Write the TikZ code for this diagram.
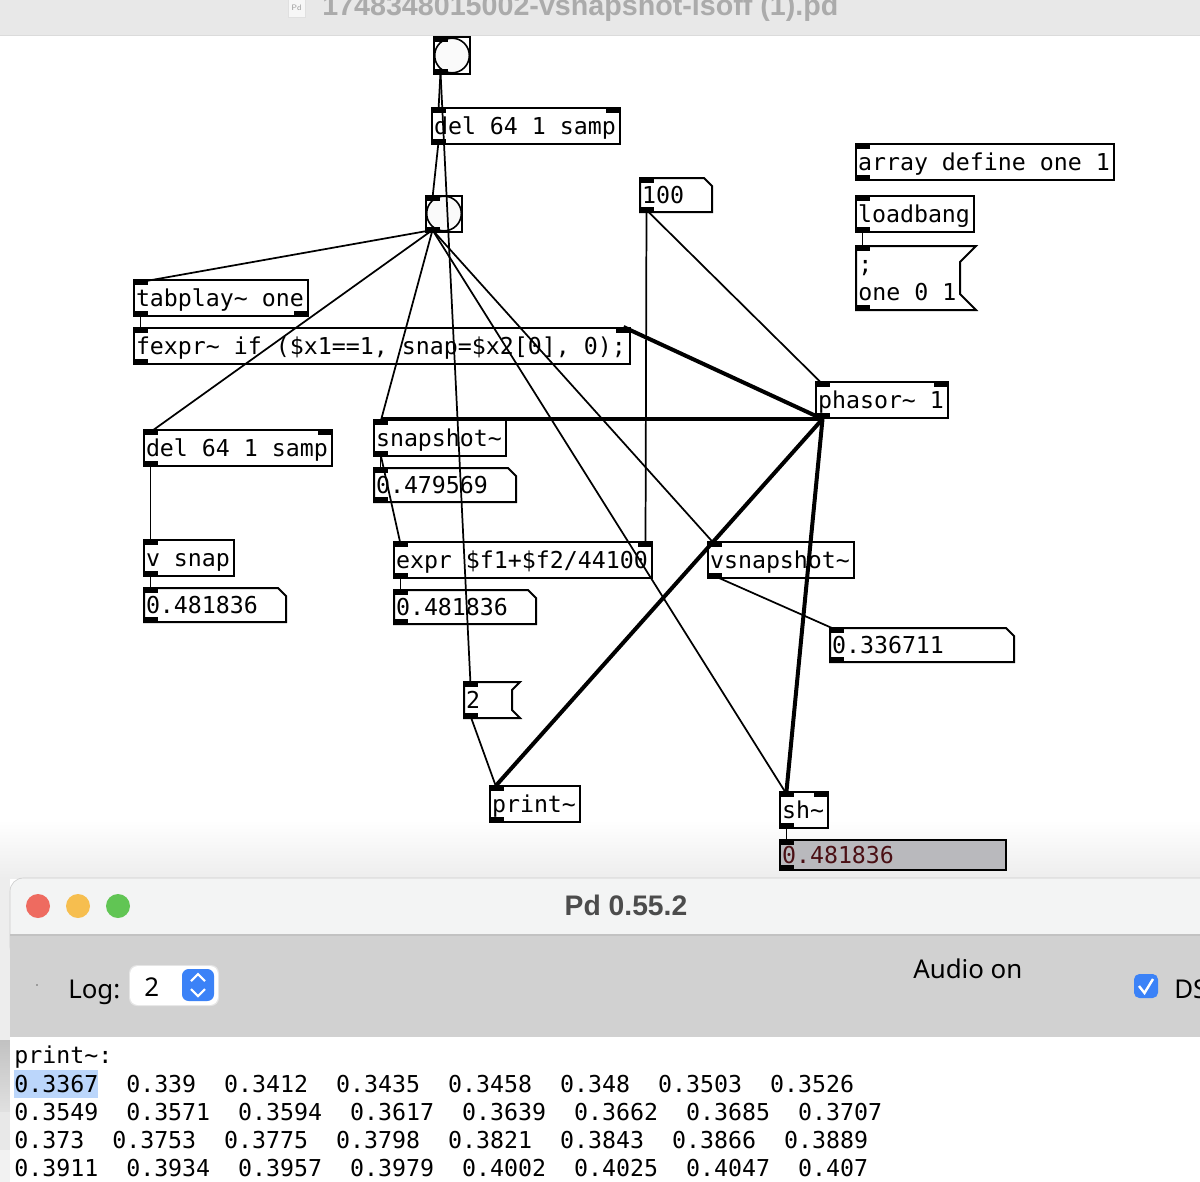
\documentclass[tikz,border=0pt]{standalone}
\usepackage{fontspec}
\newfontfamily\pdfont{DejaVu Sans Mono}
\newfontfamily\uifont{Noto Sans}
\newfontfamily\titlefont{Liberation Sans}
\definecolor{barbg}{HTML}{E8E8E8}
\definecolor{titlebg}{HTML}{F3F4F4}
\definecolor{toolbg}{HTML}{D1D1D1}
\definecolor{macblue}{HTML}{3B82F7}
\definecolor{selblue}{HTML}{BBD6FB}
\definecolor{numgray}{HTML}{B9B9BD}
\definecolor{numred}{HTML}{4A0F14}
\definecolor{lampred}{HTML}{EE6B60}
\definecolor{lampyellow}{HTML}{F6BE4F}
\definecolor{lampgreen}{HTML}{61C554}
\newcommand{\tl}{\char"7E }
\newcommand{\pdports}[1]{
 \node[port,anchor=north west] (#1-in) at ([shift={(-.75pt,.75pt)}]#1.north west) {};
 \node[port,anchor=south west] (#1-out) at ([shift={(-.75pt,-.75pt)}]#1.south west) {};
}
\newcommand{\pdbox}[7][]{
 \node[pdbox,minimum width={(#5-#3-2)*.75pt},minimum height={(#6-#4-2)*.75pt},text width={(#5-#3-6)*.75pt},#1] (#2) at ({(#3+#5)/2},{(#4+#6)/2}) {\spaceskip=0pt\xspaceskip=0pt\mbox{#7}};
 \pdports{#2}
}
\newcommand{\pdnum}[6]{
 \pdbox[draw=none]{#1}{#2}{#3}{#4}{#5}{#6}
 \draw[boxline] (#1.north west) -- ([xshift=-6pt]#1.north east) -- ([yshift=-6pt]#1.north east) -- (#1.south east) -- (#1.south west) -- cycle;
}
\newcommand{\pdmsg}[7]{
 \pdbox[draw=none]{#1}{#2}{#3}{#4}{#5}{#7}
 \draw[boxline] (#1.north west) -- (#1.north east) -- ([shift={(-#6,-#6)}]#1.north east) -- ([shift={(-#6,#6)}]#1.south east) -- (#1.south east) -- (#1.south west) -- cycle;
}
\newcommand{\pdright}[1]{
 \node[port,anchor=north east] (#1-in2) at ([shift={(.75pt,.75pt)}]#1.north east) {};
}
\begin{document}
\begin{tikzpicture}[x=.75pt,y=-.75pt,
 pdbox/.style ={draw=black,line width=1.5pt,inner xsep=1.5pt,inner ysep=0pt,outer sep=0pt,align=left,font=\pdfont\fontsize{17.44}{21}\selectfont,text height=15pt,text depth=3pt},
 boxline/.style ={draw=black,line width=1.5pt,line join=miter},
 port/.style ={fill=black,inner sep=0pt,outer sep=0pt,minimum width=11.25pt,minimum height=4.5pt},
 bangdot/.style ={circle,draw=black,fill=white!98!black,line width=1.2pt,inner sep=0pt,minimum size=26pt},
 cable/.style ={-,draw=black,line width=1.3pt},
 sigcable/.style ={-,draw=black,line width=3pt},
 logtext/.style ={anchor=base west,inner sep=0pt,font=\pdfont\fontsize{17.44}{21}\selectfont},
 uitext/.style ={anchor=base west,inner sep=0pt,font=\uifont\fontsize{19.4}{23}\selectfont}
 ]
\useasboundingbox (0,0) rectangle (1200,1182);
%draw title bar of the patch
\fill[barbg] (0,0) rectangle (1200,35);
\fill[black!14] (0,35) rectangle (1200,36);
\draw[black!12,fill=black!3,line width=.5pt] (288,-3) rectangle (305,17);
\node[inner sep=0pt,text=black!40,font=\fontsize{6}{6}\selectfont\sffamily] (docicon) at (296.5,8) {Pd};
\node[anchor=base west,inner sep=0pt,text=black!33,font=\titlefont\bfseries\fontsize{21.5}{24}\selectfont] (patchtitle) at (322,15) {1748348015002-vsnapshot-isoff (1).pd};
%draw soft shadow over the patch
\shade[top color=white,bottom color=black!7] (0,820) rectangle (1200,878);
\fill[black!7] (0,878) rectangle (10,1040);
\shade[top color=black!24,bottom color=black!12] (0,1040) rectangle (10,1112);
\fill[black!9] (0,1112) rectangle (10,1150);
\fill[black!5] (0,1150) rectangle (10,1182);
%draw bangs
\node[bangdot] (dot1) at (452,55.5) {};
\node[bangdot] (dot2) at (444,213.5) {};
\pdbox{bang1}{433}{36}{471}{75}{}
\pdbox{bang2}{425}{195}{463}{233}{}
%draw objects
\pdbox{del1}{431}{107}{621}{145}{del 64 1 samp}
\pdright{del1}
\pdbox{array}{855}{143}{1115}{181}{array define one 1}
\pdbox{load}{855}{195}{975}{233}{loadbang}
\pdbox{tabplay}{133}{279}{309}{317}{tabplay\tl\ one}
\node[port,anchor=south east] (tabplay-out2) at ([shift={(.75pt,-.75pt)}]tabplay.south east) {};
\pdbox{fexpr}{133}{327}{631}{365}{fexpr\tl\ if (\$x1==1, snap=\$x2[0], 0);}
\pdright{fexpr}
\pdbox{phasor}{815}{381}{949}{419}{phasor\tl\ 1}
\pdright{phasor}
\pdbox{del2}{143}{429}{333}{467}{del 64 1 samp}
\pdright{del2}
\pdbox{snapshot}{373}{419}{507}{457}{snapshot\tl}
\pdbox{vsnap}{143}{539}{235}{577}{v snap}
\pdbox{expr}{393}{541}{653}{579}{expr \$f1+\$f2/44100}
\pdright{expr}
\pdbox{vsnapshot}{707}{541}{855}{579}{vsnapshot\tl}
\pdbox{print}{489}{785}{581}{823}{print\tl}
\pdbox{sh}{779}{791}{829}{829}{sh\tl}
\pdright{sh}
%draw number boxes
\pdnum{num100}{639}{177}{713}{213}{100}
\pdnum{numsnap}{373}{467}{517}{503}{0.479569}
\pdnum{numv}{143}{587}{287}{623}{0.481836}
\pdnum{numexpr}{393}{589}{537}{625}{0.481836}
\pdnum{numvsnap}{829}{627}{1015}{663}{0.336711}
\pdbox[fill=numgray,text=numred]{numsh}{779}{839}{1007}{871}{0.481836}
%draw message boxes
\pdmsg{msgone}{855}{245}{977}{311}{12pt}{}
\node[logtext] (msgsemi) at (858,272) {;};
\node[logtext] (msgtext) at (858,300) {one 0 1};
\pdmsg{msgtwo}{463}{681}{521}{719}{6pt}{2}
%draw control cables
\draw[cable] (bang1-out.center) -- (del1-in.center);
\draw[cable] (bang1-out.center) -- (msgtwo-in.center);
\draw[cable] (del1-out.center) -- (bang2-in.center);
\draw[cable] (bang2-out.center) -- (tabplay-in.center);
\draw[cable] (bang2-out.center) -- (del2-in.center);
\draw[cable] (bang2-out.center) -- (snapshot-in.center);
\draw[cable] (bang2-out.center) -- (vsnapshot-in.center);
\draw[cable] (bang2-out.center) -- (sh-in.center);
\draw[cable] (tabplay-out.center) -- (fexpr-in.center);
\draw[cable] (del2-out.center) -- (vsnap-in.center);
\draw[cable] (vsnap-out.center) -- (numv-in.center);
\draw[cable] (snapshot-out.center) -- (numsnap-in.center);
\draw[cable] (snapshot-out.center) -- (expr-in.center);
\draw[cable] (expr-out.center) -- (numexpr-in.center);
\draw[cable] (num100-out.center) -- (expr-in2.center);
\draw[cable] (num100-out.center) -- (phasor-in.center);
\draw[cable] (load-out.center) -- (msgone-in.center);
\draw[cable] (vsnapshot-out.center) -- (numvsnap-in.center);
\draw[cable] (msgtwo-out.center) -- (print-in.center);
\draw[cable] (sh-out.center) -- (numsh-in.center);
%draw signal cables
\draw[sigcable] (phasor-out.south) -- (fexpr-in2.north);
\draw[sigcable] (phasor-out.south) -- (snapshot-in.north);
\draw[sigcable] (phasor-out.south) -- (print-in.north);
\draw[sigcable] (phasor-out.south) -- (sh-in.north);
%draw Pd window
\filldraw[fill=titlebg,draw=black!20,line width=.5pt,rounded corners=10pt] (10,960) -- (10,878) -- (1230,878) -- (1230,960) -- cycle;
\fill[toolbg] (10,935) rectangle (1200,1037);
\fill[black!24] (10,934) rectangle (1200,935.5);
\fill[white] (10,1037) rectangle (1200,1182);
\fill[lampred] (38,906) circle (9pt);
\fill[lampyellow] (78,906) circle (9pt);
\fill[lampgreen] (118,906) circle (9pt);
\node[inner sep=0pt,text=black!70,font=\titlefont\bfseries\fontsize{21.2}{24}\selectfont] (pdtitle) at (626,905) {Pd 0.55.2};
%draw toolbar
\fill[black!60] (37,985) circle (.6pt);
\node[uitext] (loglabel) at (68,998) {Log:};
\fill[black!10,rounded corners=6pt] (129,965) rectangle (219,1006);
\fill[white,rounded corners=6pt] (130,966) rectangle (218,1005);
\node[uitext] (loglevel) at (144,996) {2};
\fill[macblue,rounded corners=5pt] (182,969) rectangle (214,1001);
\draw[white,line width=1.6pt] (191,981) -- (198,974) -- (205,981);
\draw[white,line width=1.6pt] (191,989) -- (198,996) -- (205,989);
\node[uitext] (audioon) at (913,978) {Audio on};
\fill[macblue,rounded corners=4pt] (1134,974) rectangle (1158,998);
\draw[white,line width=1.8pt] (1139,986) -- (1144.5,993) -- (1153,979);
\node[uitext] (dspcheck) at (1174,998) {DS};
%draw log lines
\fill[selblue] (14,1070) rectangle (98,1098);
\node[logtext] (log0) at (14,1063) {print\tl:};
\node[logtext] (log1) at (14,1092) {0.3367~~0.339~~0.3412~~0.3435~~0.3458~~0.348~~0.3503~~0.3526};
\node[logtext] (log2) at (14,1120) {0.3549~~0.3571~~0.3594~~0.3617~~0.3639~~0.3662~~0.3685~~0.3707};
\node[logtext] (log3) at (14,1148) {0.373~~0.3753~~0.3775~~0.3798~~0.3821~~0.3843~~0.3866~~0.3889};
\node[logtext] (log4) at (14,1176) {0.3911~~0.3934~~0.3957~~0.3979~~0.4002~~0.4025~~0.4047~~0.407};
\end{tikzpicture}
\end{document}
